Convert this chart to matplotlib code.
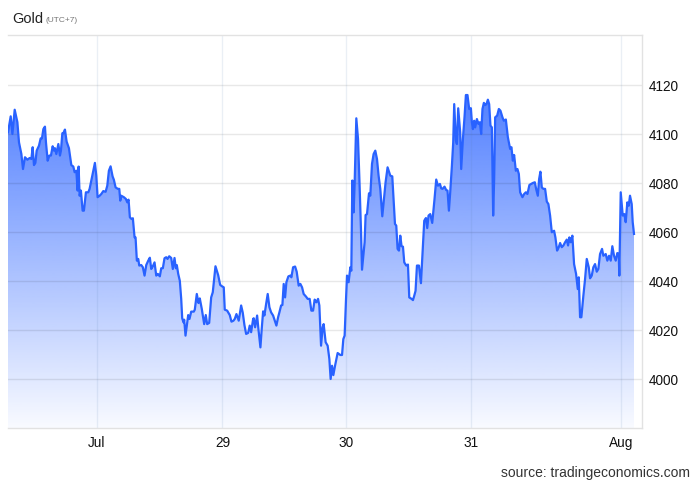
import numpy as np
import matplotlib
matplotlib.use("Agg")
import matplotlib.pyplot as plt
from matplotlib.patches import Polygon

plt.rcParams['font.family'] = ['Liberation Sans', 'DejaVu Sans']

# chart time index (session position) and gold price
t = [7.3, 10, 11.7, 14, 16.7, 18.3, 20.7, 22.3, 24.3, 26.7, 29, 30.7, 32, 33.3, 34.7, 36, 38.3, 40, 41.3, 42.7,
     44.3, 45.3, 47, 48.7, 50.3, 52, 53.3, 54.3, 55.7, 57.7, 59.3, 60.3, 61.7, 62.7, 64.3, 66, 68.3, 70.7, 72.7, 74,
     75.7, 77, 78, 79, 80.3, 82, 83.3, 85.3, 87.7, 89, 91, 94.3, 95.7, 97, 99, 100.7, 102.7, 105, 106.7, 108.3,
     110, 112, 113.3, 115, 117.3, 118.7, 119.7, 120.7, 123.3, 125.3, 126.7, 128, 129.3, 131, 132.3, 134, 135, 136.3, 137.7, 138.7,
     140.7, 142.3, 144, 145.7, 147.7, 149.3, 150.7, 152.3, 154, 155.7, 157.3, 159.3, 160.7, 162.3, 164, 165.7, 167, 168.7, 170.7, 172.3,
     174, 175.3, 176.3, 177.7, 179.3, 180.7, 181.7, 183, 183.7, 185, 186.7, 187.7, 189, 190.7, 193.3, 194.3, 196.3, 198, 199.3, 201.3,
     203.7, 205.3, 206.7, 208.7, 210.7, 212.3, 215, 217.7, 219.7, 221.7, 223.3, 224.3, 226.7, 229.3, 231, 233, 234.3, 236, 238.3, 240.7,
     242.3, 244, 245.7, 247.7, 249.3, 250.7, 252.7, 253.3, 254.7, 256.7, 258, 260, 261.3, 262.7, 264, 265.7, 267.3, 269, 270.7, 272.7,
     274.7, 276, 277.7, 279, 280.7, 282, 283.3, 284.7, 286, 288, 290, 291, 292.7, 294.7, 296.3, 298.3, 300, 301.7, 303.3, 305.7,
     307.3, 309.3, 311, 312.7, 314.3, 316, 317.7, 319, 320.7, 322.3, 323.3, 325.3, 327.3, 329, 330.3, 331.7, 333, 334.7, 337.3, 340,
     341.7, 343, 344.3, 345.7, 346.7, 348.3, 350, 351, 352, 353.3, 354.3, 356, 357.7, 359.3, 360.7, 361.7, 363.3, 364.3, 365.3, 366.7,
     368.7, 370, 371.7, 373.3, 375, 376.7, 378.3, 380, 382, 383.7, 385.3, 387.3, 388.7, 390, 392, 393.3, 394.7, 396, 397.3, 398.7,
     400, 401.3, 402.7, 404, 406, 407.7, 409, 411.3, 412.7, 414, 415.3, 416.7, 418.7, 420.7, 422.7, 424, 425.7, 427, 428.3, 430,
     432, 434.3, 436, 437.7, 439.7, 441, 442.3, 444.3, 446, 447.3, 448.7, 450, 451.7, 453, 454, 455.7, 456.7, 458, 460, 461,
     462.7, 464.3, 465.7, 467.3, 469, 470.7, 471.7, 472.7, 474, 475, 476.7, 478.3, 479.7, 481, 482.3, 483.7, 485, 486.3, 487.7, 489,
     490.3, 491.7, 493, 494, 495, 497, 498.7, 500.3, 502.3, 503.7, 505.7, 507.7, 510, 511.3, 512.7, 514, 515.7, 517.3, 518.7, 520,
     522.3, 524, 525.7, 527.3, 529.3, 531, 532.7, 534.7, 536, 537.7, 539, 540.3, 541.7, 543.3, 545, 546.7, 548.3, 550, 551.7, 554,
     555.3, 557, 558.7, 560, 561.7, 563.3, 565, 566.7, 568, 569.3, 570.7, 572.3, 574, 576, 577.7, 578.7, 580, 581.3, 583.3, 585,
     586.7, 588.7, 590, 591.7, 593.3, 595, 596.7, 598.3, 600, 602, 603.3, 605.7, 607.3, 609, 610.7, 612.3, 614, 615.7, 617.3, 618.7,
     619.3, 620.7, 622.7, 624.3, 625.7, 627.3, 628.7, 630, 631.7, 632.7, 634]

price = [4100.7, 4107.2, 4100.0, 4109.9, 4104.8, 4096.6, 4091.8, 4085.7, 4090.5, 4089.5, 4090.2, 4089.8, 4094.6, 4087.3, 4088.2, 4093.2, 4095.2, 4098.2, 4098.2, 4102.0,
         4103.0, 4096.6, 4089.1, 4091.2, 4091.2, 4095.0, 4093.2, 4094.2, 4091.8, 4095.9, 4091.2, 4093.2, 4100.3, 4100.3, 4101.8, 4096.9, 4094.2, 4087.3, 4086.7, 4084.4,
         4085.0, 4076.9, 4086.7, 4074.8, 4076.9, 4068.7, 4068.7, 4076.2, 4076.2, 4077.6, 4081.6, 4088.2, 4083.0, 4074.2, 4074.8, 4075.5, 4076.7, 4076.4, 4078.9, 4085.0,
         4086.8, 4082.7, 4081.3, 4078.2, 4077.6, 4077.6, 4072.8, 4074.8, 4074.2, 4073.5, 4072.1, 4073.2, 4066.0, 4065.3, 4065.6, 4057.8, 4057.8, 4048.3, 4049.0, 4046.3,
         4046.5, 4045.6, 4042.2, 4046.5, 4048.3, 4049.5, 4044.9, 4046.0, 4047.6, 4042.2, 4042.9, 4041.9, 4045.2, 4045.2, 4049.3, 4049.7, 4049.0, 4050.1, 4049.4, 4044.9,
         4049.4, 4045.2, 4046.5, 4042.9, 4040.1, 4032.7, 4024.8, 4023.1, 4024.2, 4017.7, 4023.1, 4026.1, 4024.5, 4027.5, 4027.5, 4028.3, 4034.7, 4031.0, 4032.9, 4028.6,
         4022.4, 4026.1, 4022.4, 4022.9, 4033.3, 4035.4, 4046.0, 4042.4, 4038.4, 4037.8, 4037.4, 4028.3, 4027.9, 4026.1, 4023.4, 4023.8, 4024.5, 4026.5, 4023.8, 4030.0,
         4027.1, 4022.0, 4018.4, 4018.8, 4021.8, 4019.1, 4024.5, 4024.8, 4021.1, 4025.9, 4020.4, 4012.9, 4020.4, 4027.6, 4025.9, 4030.6, 4034.7, 4029.3, 4027.2, 4025.9,
         4023.4, 4021.8, 4025.2, 4027.2, 4030.0, 4030.2, 4038.8, 4033.3, 4039.5, 4041.9, 4042.2, 4041.5, 4045.6, 4045.9, 4043.8, 4038.1, 4038.8, 4037.4, 4034.7, 4033.6,
         4032.7, 4032.7, 4027.9, 4027.9, 4032.4, 4031.3, 4032.7, 4030.0, 4013.6, 4021.1, 4022.4, 4015.0, 4013.6, 4008.2, 4000.0, 4005.4, 4001.6, 4005.4, 4010.6, 4009.8,
         4009.8, 4016.3, 4017.7, 4032.7, 4042.2, 4039.5, 4045.6, 4044.2, 4081.0, 4068.0, 4079.6, 4106.4, 4098.0, 4078.9, 4060.5, 4044.6, 4051.7, 4055.8, 4066.9, 4067.3,
         4075.8, 4074.8, 4087.8, 4091.8, 4093.2, 4089.8, 4083.0, 4077.6, 4066.4, 4073.5, 4080.3, 4086.4, 4084.6, 4083.0, 4082.7, 4073.5, 4063.3, 4062.6, 4053.1, 4052.4,
         4058.5, 4054.2, 4054.0, 4047.6, 4046.3, 4046.7, 4033.3, 4032.7, 4032.2, 4034.0, 4036.0, 4046.3, 4046.3, 4039.1, 4054.5, 4064.6, 4065.7, 4061.6, 4066.7, 4067.3,
         4063.7, 4073.5, 4081.4, 4078.9, 4079.6, 4077.8, 4077.6, 4078.5, 4077.1, 4076.9, 4068.7, 4076.2, 4087.1, 4096.6, 4112.2, 4097.3, 4095.9, 4110.5, 4100.7, 4085.7,
         4098.0, 4106.8, 4115.9, 4115.9, 4110.2, 4110.5, 4104.8, 4102.0, 4105.4, 4102.7, 4106.1, 4104.1, 4104.8, 4100.0, 4110.2, 4112.7, 4111.8, 4112.2, 4114.0, 4112.2,
         4103.4, 4102.7, 4066.7, 4081.6, 4106.8, 4107.5, 4110.2, 4109.5, 4106.8, 4105.4, 4105.9, 4098.7, 4093.9, 4094.6, 4089.1, 4091.4, 4085.0, 4085.7, 4083.7, 4076.2,
         4074.2, 4075.5, 4076.2, 4075.5, 4079.2, 4079.6, 4080.0, 4080.3, 4077.6, 4074.8, 4081.6, 4084.6, 4078.2, 4077.6, 4077.6, 4072.4, 4071.4, 4066.7, 4059.9, 4060.5,
         4057.8, 4052.4, 4053.8, 4055.5, 4053.8, 4054.5, 4055.8, 4056.9, 4054.5, 4057.8, 4055.8, 4058.5, 4046.9, 4042.9, 4036.7, 4041.5, 4025.2, 4025.2, 4034.0, 4040.8,
         4049.0, 4045.6, 4041.1, 4042.2, 4045.6, 4046.9, 4043.8, 4044.9, 4051.0, 4053.1, 4050.3, 4051.0, 4048.3, 4050.3, 4048.3, 4054.2, 4050.3, 4048.3, 4051.4, 4051.0,
         4042.2, 4076.2, 4066.7, 4067.3, 4064.0, 4072.1, 4070.7, 4074.8, 4071.4, 4064.0, 4059.2]

tick_pos = [96.3, 222.0, 345.7, 470.7, 620.7]
tick_labels = ["Jul", "29", "30", "31", "Aug"]
y_ticks = [4000, 4020, 4040, 4060, 4080, 4100, 4120]

W, H = 700, 485
fig = plt.figure(figsize=(W / 100, H / 100), dpi=100)
fig.patch.set_facecolor('white')
ax = fig.add_axes([8 / W, 1 - 429 / H, (642 - 8) / W, (429 - 36) / H])

t_arr = np.array(t)
p_arr = np.array(price)
ymin, ymax = 3980, 4140.4
xmin, xmax = t_arr[0], 642
ax.set_xlim(xmin, xmax)
ax.set_ylim(ymin, ymax)

line_rgb = np.array([41, 98, 255]) / 255.0
# vertical gradient fill
n = 256
alpha = np.linspace(0.03, 0.95, n)
grad = np.zeros((n, 1, 4))
grad[:, 0, :3] = line_rgb
grad[:, 0, 3] = alpha
im = ax.imshow(grad, extent=[xmin, xmax, ymin, ymax], aspect='auto', origin='lower',
               zorder=1, interpolation='bilinear')
verts = np.column_stack([np.r_[t_arr[0], t_arr, t_arr[-1]], np.r_[ymin, p_arr, ymin]])
poly = Polygon(verts, closed=True, transform=ax.transData, facecolor='none', edgecolor='none')
ax.add_patch(poly)
im.set_clip_path(poly)

ax.plot(t_arr, p_arr, color='#2962ff', lw=1.6, zorder=4, solid_joinstyle='round')

# grid
for yv in y_ticks:
    ax.axhline(yv, color=(0, 0, 0, 0.09), lw=1, zorder=2)
for xv in tick_pos:
    ax.axvline(xv, color=(0.35, 0.5, 0.7, 0.12), lw=1, zorder=2)

ax.set_xticks(tick_pos)
ax.set_xticklabels(tick_labels)
ax.set_yticks(y_ticks)
ax.yaxis.tick_right()
ax.tick_params(axis='y', length=0, pad=5, labelsize=9.8, labelcolor='#111111')
ax.tick_params(axis='x', length=0, pad=5, labelsize=9.8, labelcolor='#111111')

ax.spines['left'].set_visible(False)
for side in ['top', 'bottom', 'right']:
    ax.spines[side].set_color('#e2e2e2')
    ax.spines[side].set_linewidth(1)

fig.text(12 / W, 1 - 19 / H, "Gold", fontsize=10.5, color='#222222', va='center', ha='left')
fig.text(46 / W, 1 - 20.5 / H, "(UTC+7)", fontsize=6, color='#777777', va='center', ha='left')
fig.text(690 / W, 1 - 473 / H, "source: tradingeconomics.com", fontsize=10, color='#333333',
         va='center', ha='right')

fig.savefig("out.png", dpi=100, facecolor='white')
